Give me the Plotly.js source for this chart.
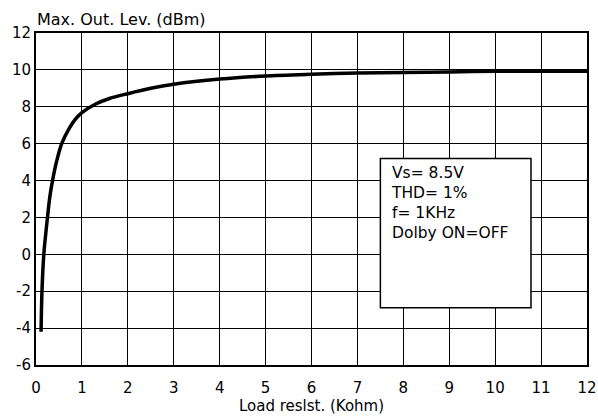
<!DOCTYPE html>
<html>
<head>
<meta charset="utf-8">
<script src="https://cdn.plot.ly/plotly-3.0.1.min.js"></script>
<style>html,body{margin:0;padding:0;background:#fff;}#chart{width:598px;height:419px;}</style>
</head>
<body>
<div id="chart"></div>
<script>
const loadKohm = [0.11, 0.13, 0.17, 0.25, 0.3, 0.36, 0.45, 0.56, 0.73, 0.85, 1.0, 1.3, 1.6, 2.0, 2.5, 3.0, 4.0, 5.0, 6.0, 7.0, 8.0, 9.0, 10.0, 11.0, 12.0];
const maxOutDbm = [-4.2, -2.0, 0.0, 2.0, 3.1, 4.0, 5.05, 6.0, 6.85, 7.3, 7.68, 8.15, 8.45, 8.71, 9.0, 9.22, 9.5, 9.67, 9.76, 9.83, 9.86, 9.89, 9.92, 9.92, 9.92];
const xTicks = [0,1,2,3,4,5,6,7,8,9,10,11,12];
const yTicks = [-6,-4,-2,0,2,4,6,8,10,12];
const noteLines = ["Vs= 8.5V", "THD= 1%", "f= 1KHz", "Dolby ON=OFF"];

const font = {family: "DejaVu Sans, Arial, sans-serif", size: 15, color: "#000"};

const trace = {
  x: loadKohm, y: maxOutDbm, type: "scatter", mode: "lines",
  line: {color: "#000", width: 3.5, shape: "spline", smoothing: 0.8},
  hoverinfo: "skip"
};

const layout = {
  width: 598, height: 419,
  margin: {l: 36, r: 11, t: 33, b: 54},
  paper_bgcolor: "#fff", plot_bgcolor: "#fff",
  font: font,
  showlegend: false,
  xaxis: {
    range: [0, 12], tickvals: xTicks, ticktext: xTicks.map(String),
    showgrid: true, gridcolor: "#000", gridwidth: 1,
    zeroline: false, showline: true, linecolor: "#000", linewidth: 2, mirror: true,
    ticks: "", ticklen: 0, tickfont: font, ticklabelstandoff: 8,
    title: {text: "Load reslst. (Kohm)", font: font, standoff: 0}
  },
  yaxis: {
    range: [-6, 12], tickvals: yTicks, ticktext: yTicks.map(String),
    showgrid: true, gridcolor: "#000", gridwidth: 1,
    zeroline: false, showline: true, linecolor: "#000", linewidth: 2, mirror: true,
    ticks: "", ticklen: 0, tickfont: font
  },
  shapes: [{
    type: "rect", xref: "x", yref: "y", x0: 7.5, x1: 10.78, y0: -2.9, y1: 5.2,
    fillcolor: "#fff", line: {color: "#000", width: 1.5}, layer: "above"
  }],
  annotations: [
    {xref: "paper", yref: "paper", x: -0.001, y: 1.0, xanchor: "left", yanchor: "bottom",
     yshift: 2, text: "Max. Out. Lev. (dBm)", showarrow: false, font: {family: font.family, size: 16, color: "#000"}},
    {xref: "x", yref: "y", x: 7.68, y: 5.0, xanchor: "left", yanchor: "top", align: "left",
     text: noteLines.join("<br>"), showarrow: false, font: {family: font.family, size: 15.5, color: "#000"}}
  ]
};

Plotly.newPlot("chart", [trace], layout, {displayModeBar: false, staticPlot: true});
</script>
</body>
</html>
